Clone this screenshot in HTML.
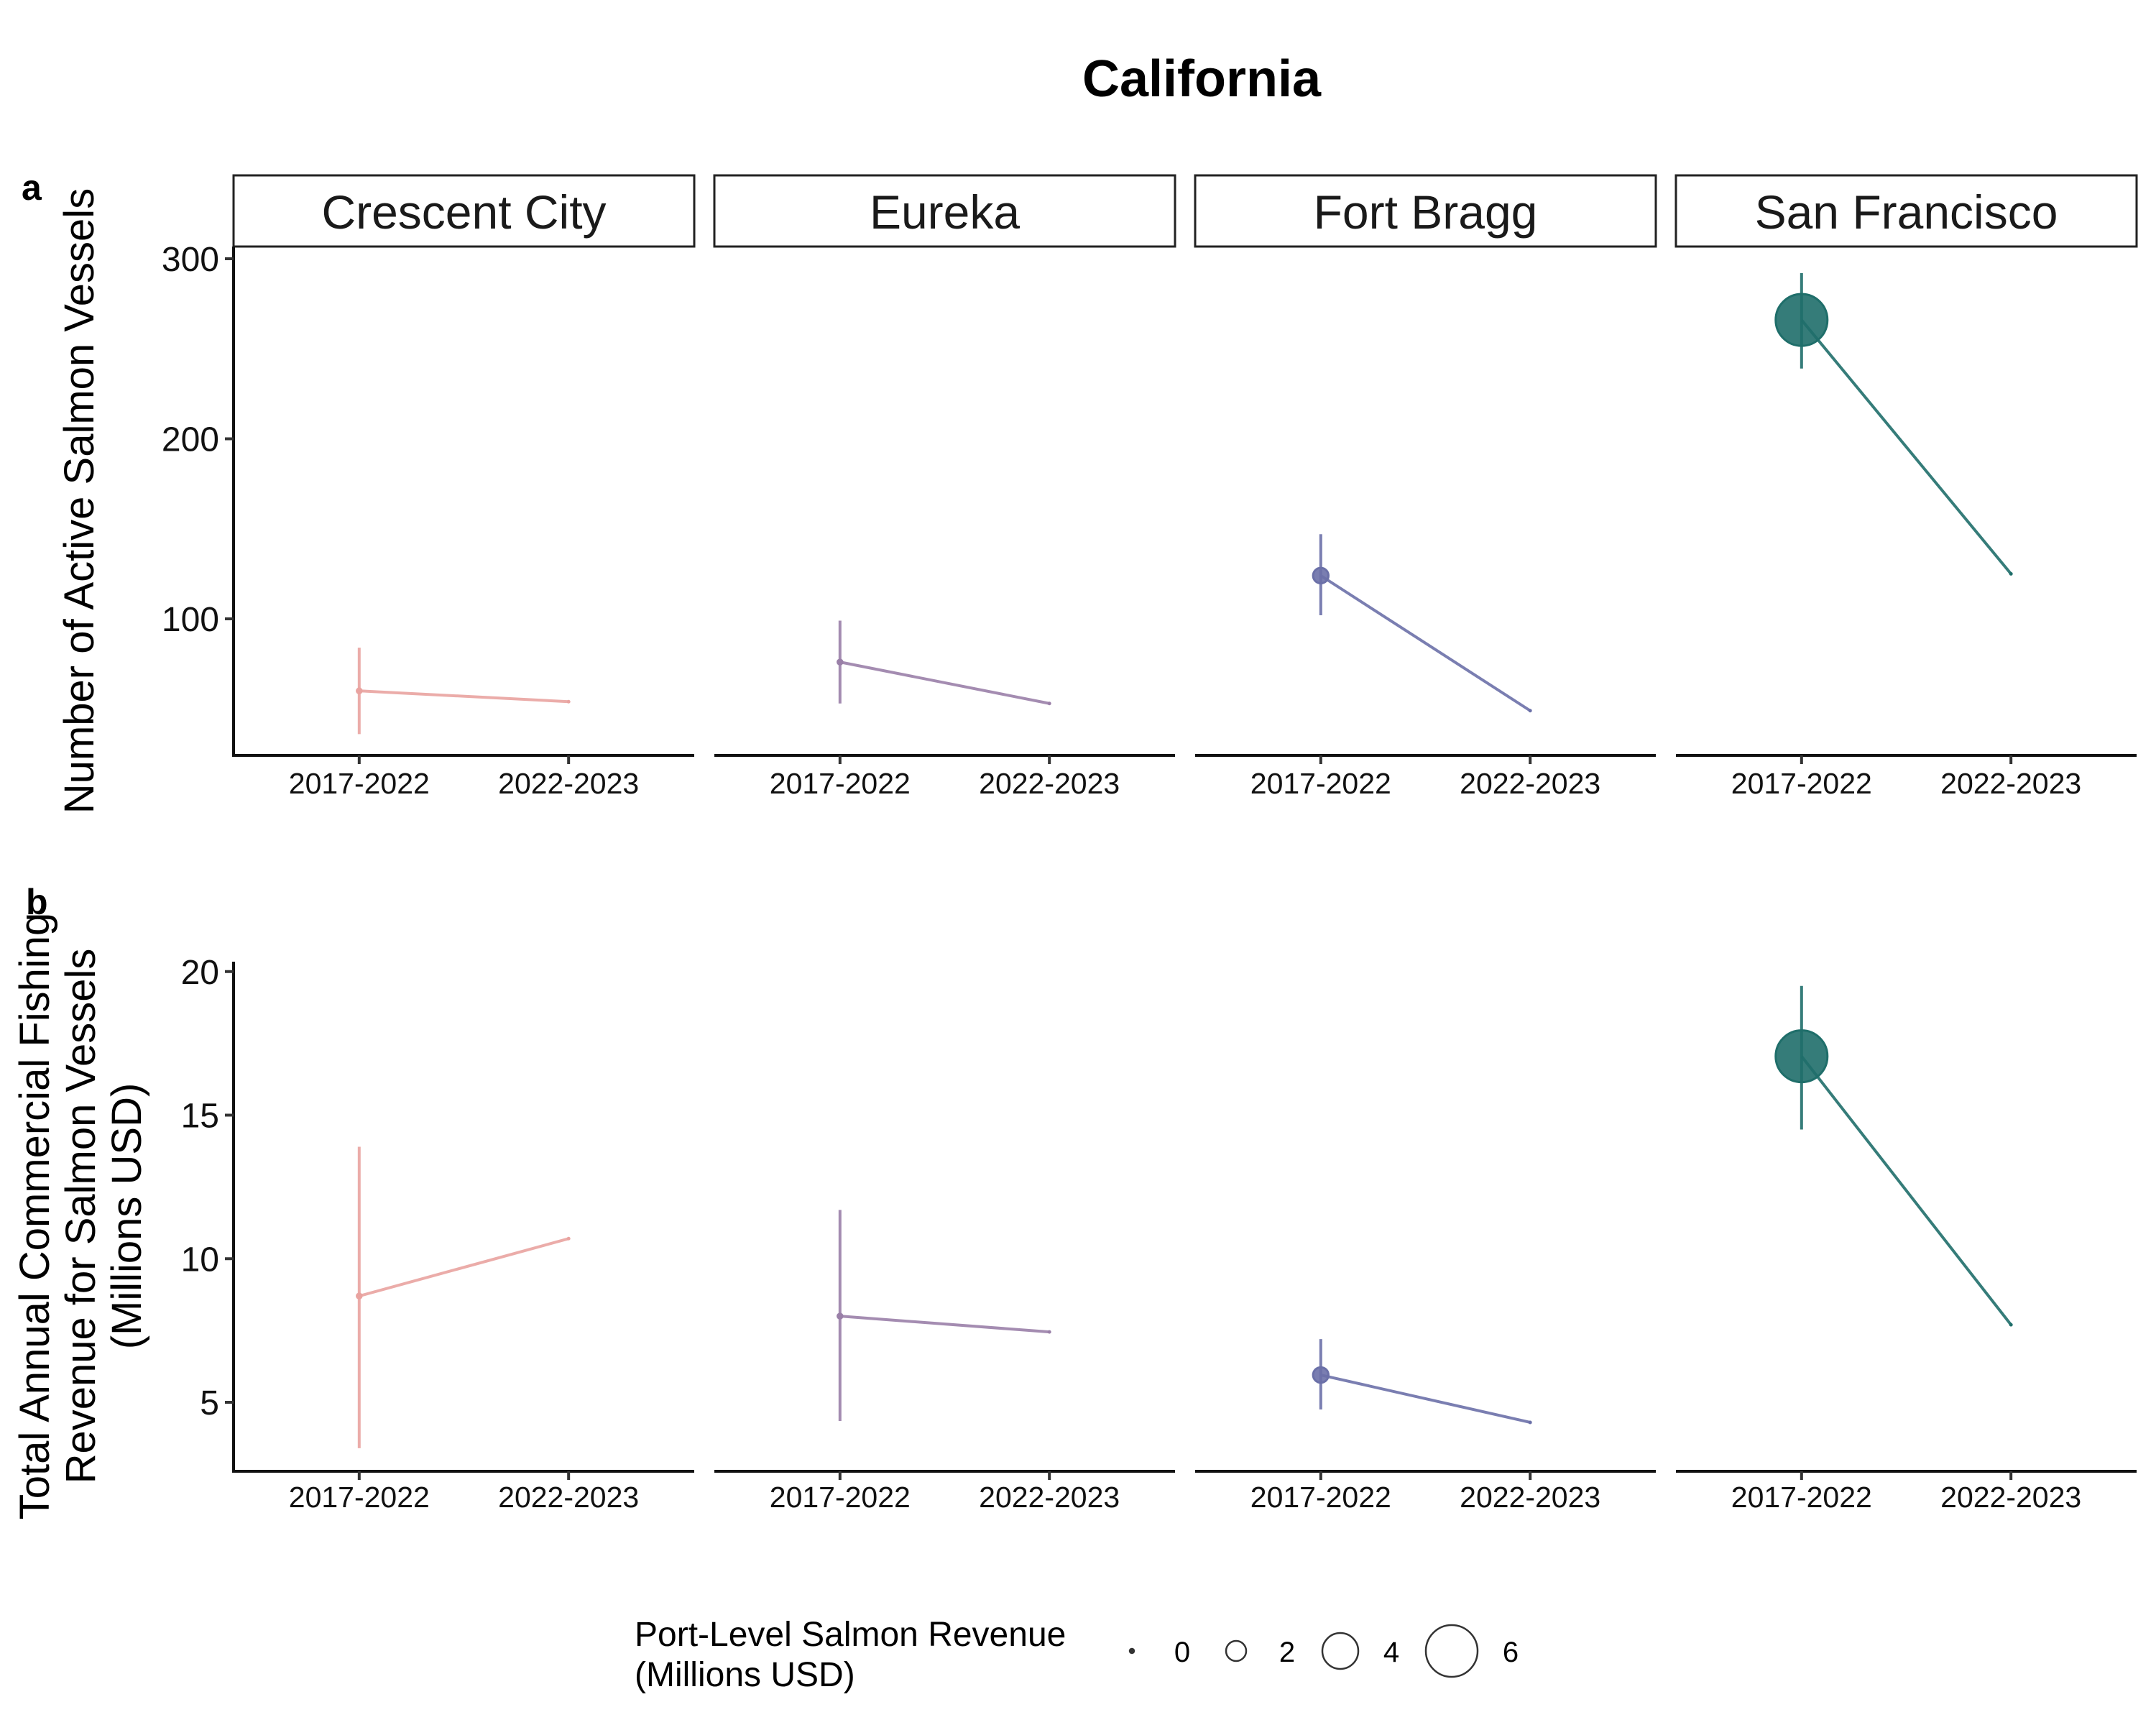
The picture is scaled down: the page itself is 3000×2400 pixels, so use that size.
<!DOCTYPE html>
<html><head><meta charset="utf-8"><style>
html,body{margin:0;padding:0;background:#fff;}
svg{display:block;font-family:"Liberation Sans",Arial,sans-serif;}
</style></head><body>
<svg id="chart" width="3000" height="2400" viewBox="0 0 3000 2400" xmlns="http://www.w3.org/2000/svg">
<text x="1672" y="134" font-size="72" font-weight="bold" text-anchor="middle">California</text>
<text x="30" y="278" font-size="50" font-weight="bold">a</text>
<text x="36" y="1272" font-size="50" font-weight="bold">b</text>
<text transform="translate(130,697) rotate(-90)" font-size="58" text-anchor="middle">Number of Active Salmon Vessels</text>
<text transform="translate(68,1692) rotate(-90)" font-size="58" text-anchor="middle"><tspan x="0" y="0">Total Annual Commercial Fishing</tspan><tspan x="0" y="64">Revenue for Salmon Vessels</tspan><tspan x="0" y="128">(Millions USD)</tspan></text>
<g id="plots"></g>
<g>
<text x="883" y="2290" font-size="48"><tspan x="883">Port-Level Salmon Revenue</tspan><tspan x="883" y="2346">(Millions USD)</tspan></text>
<g id="legend-keys"></g>
</g>
</svg>
<script>
const ports = ["Crescent City","Eureka","Fort Bragg","San Francisco"];
const periods = ["2017-2022","2022-2023"];
const colors = ["#e9a3a0","#9a80a8","#6b70a8","#1f6e6a"];
const vesselsMean = [[60,54],[76,53],[124,49],[266,125]];
const vesselsLow = [36,53,102,239];
const vesselsHigh = [84,99,147,292];
const revMean = [[8.7,10.7],[8.0,7.45],[5.95,4.3],[17.05,7.7]];
const revLow = [3.4,4.35,4.75,14.5];
const revHigh = [13.9,11.7,7.2,19.5];
const portRevenue = [0.05,0.05,1.4,6.0];
const vesselTicks = [100,200,300];
const revTicks = [5,10,15,20];
const legendValues = [0,2,4,6];

const NS="http://www.w3.org/2000/svg";
const plots=document.getElementById('plots');
function mk(tag,attrs,parent){const e=document.createElementNS(NS,tag);for(const k in attrs)e.setAttribute(k,attrs[k]);(parent||plots).appendChild(e);return e;}
const panelX0=325, panelW=641, panelStep=669;
function xScale(p,i){return panelX0+p*panelStep+(i+1-0.4)/2.2*panelW;}
function yA(v){return 861-(v-100)*2.505;}
function yB(v){return 1951-(v-5)*39.95;}
function rScale(v){return 3+5.5*v;}

const rows=[
 {top:343,bottom:1051,y:yA,mean:vesselsMean,low:vesselsLow,high:vesselsHigh,ticks:vesselTicks,name:'vessels',labY:1104},
 {top:1338,bottom:2047,y:yB,mean:revMean,low:revLow,high:revHigh,ticks:revTicks,name:'revenue',labY:2097}
];
rows.forEach((row,ri)=>{
 ports.forEach((port,p)=>{
  const x0=panelX0+p*panelStep;
  if(ri===0){
   const s=mk('rect',{x:x0,y:244,width:panelW,height:99,fill:'#fff',stroke:'#222','stroke-width':3});
   
   
   const t=mk('text',{x:x0+panelW/2,y:318,'font-size':66,'text-anchor':'middle',fill:'#1a1a1a'});
   t.textContent=port;
   
   
  }
  const ax=mk('line',{x1:x0,x2:x0+panelW,y1:row.bottom,y2:row.bottom,stroke:'#111','stroke-width':4});
  
  
  if(p===0){
   const ya=mk('line',{x1:x0,x2:x0,y1:row.top,y2:row.bottom+2,stroke:'#111','stroke-width':4});
   
   
   row.ticks.forEach(tv=>{
    const yy=row.y(tv);
    mk('line',{x1:x0-12,x2:x0,y1:yy,y2:yy,stroke:'#333','stroke-width':4});
    const tl=mk('text',{x:x0-20,y:yy+17,'font-size':48,'text-anchor':'end',fill:'#111'});
    tl.textContent=tv;
    
    
   });
  }
  periods.forEach((per,i)=>{
   const xx=xScale(p,i);
   mk('line',{x1:xx,x2:xx,y1:row.bottom,y2:row.bottom+12,stroke:'#333','stroke-width':4});
   const tl=mk('text',{x:xx,y:row.labY,'font-size':41,'text-anchor':'middle',fill:'#111'});
   tl.textContent=per;
   
   
  });
  const c=colors[p];
  const xa=xScale(p,0), xb=xScale(p,1);
  const ln=mk('line',{x1:xa,y1:row.y(row.mean[p][0]),x2:xb,y2:row.y(row.mean[p][1]),stroke:c,'stroke-width':4,'stroke-opacity':0.9});
  
  
  const eb=mk('line',{x1:xa,x2:xa,y1:row.y(row.low[p]),y2:row.y(row.high[p]),stroke:c,'stroke-width':4,'stroke-opacity':0.9});
  
  
  const pt=mk('circle',{cx:xa,cy:row.y(row.mean[p][0]),r:rScale(portRevenue[p]),fill:c,'fill-opacity':0.9,stroke:c,'stroke-width':3});
  
  
  const ep=mk('circle',{cx:xb,cy:row.y(row.mean[p][1]),r:2.5,fill:c});
  
  
 });
});
const lg=document.getElementById('legend-keys');
const lgX=[1575,1720,1865,2020], lgLab=[1645,1791,1936,2102];
legendValues.forEach((v,i)=>{
 const c=mk('circle',{cx:lgX[i],cy:2297,r:rScale(v),fill:v===0?'#333':'none',stroke:'#333','stroke-width':2.5},lg);
 
 
 const t=mk('text',{x:lgLab[i],y:2312,'font-size':40,'text-anchor':'middle'},lg);
 t.textContent=v;
 
 
});
</script>
</body></html>
